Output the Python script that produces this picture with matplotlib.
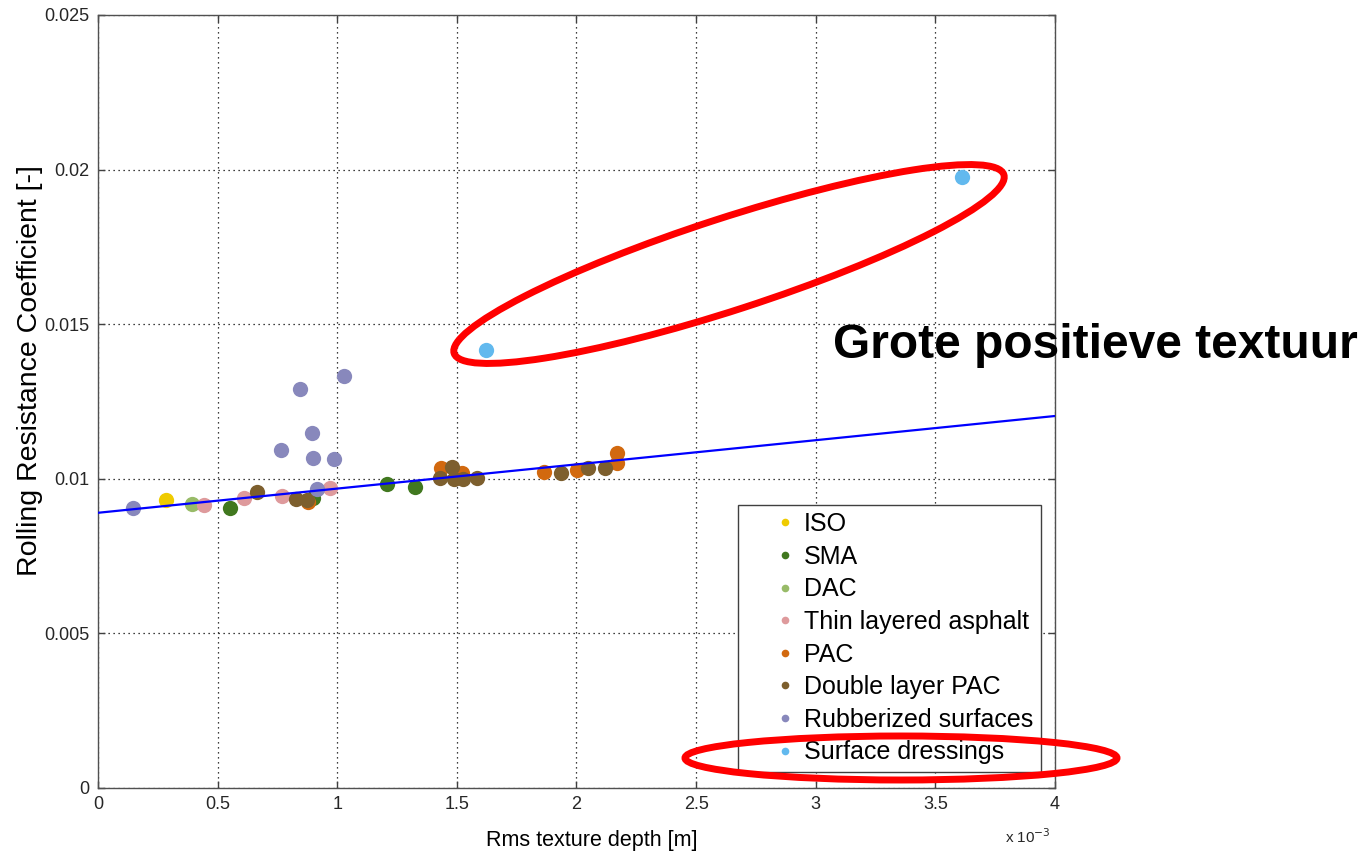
import matplotlib
matplotlib.use("Agg")
import matplotlib.pyplot as plt
from matplotlib.patches import Ellipse
from matplotlib.transforms import IdentityTransform
from matplotlib.ticker import FuncFormatter, MultipleLocator
import numpy as np

plt.rcParams["font.family"] = ["Liberation Sans", "DejaVu Sans"]

# texture depth in mm (axis is in m, x 10^-3), rolling resistance coefficient [-]
categories = ["ISO", "SMA", "DAC", "Thin layered asphalt", "PAC",
              "Double layer PAC", "Rubberized surfaces", "Surface dressings"]
colors = ["#EFCB00", "#41781F", "#98BB68", "#DE9A9C", "#D2690F",
          "#7D5F2E", "#8888BC", "#62B9EE"]

iso_x = [0.284]
iso_y = [0.00932]
sma_x = [0.552, 0.899, 1.209, 1.325]
sma_y = [0.00905, 0.00938, 0.00983, 0.00973]
dac_x = [0.394]
dac_y = [0.00917]
thin_x = [0.443, 0.612, 0.768, 0.970]
thin_y = [0.00915, 0.00939, 0.00943, 0.00970]
pac_x = [0.878, 1.432, 1.520, 1.864, 2.004, 2.168, 2.168]
pac_y = [0.00924, 0.01034, 0.01019, 0.01023, 0.01028, 0.01082, 0.01050]
dlpac_x = [0.666, 0.828, 0.872, 1.429, 1.478, 1.490, 1.526, 1.583,
           1.935, 2.050, 2.119]
dlpac_y = [0.00958, 0.00933, 0.00931, 0.01004, 0.01037, 0.00999, 0.00998,
           0.01003, 0.01018, 0.01034, 0.01034]
rubber_x = [0.145, 0.765, 0.844, 0.896, 0.900, 0.914, 0.988, 1.028]
rubber_y = [0.00905, 0.01093, 0.01290, 0.01148, 0.01067, 0.00968, 0.01063,
            0.01333]
dress_x = [1.622, 3.611]
dress_y = [0.01417, 0.01975]

xs = [iso_x, sma_x, dac_x, thin_x, pac_x, dlpac_x, rubber_x, dress_x]
ys = [iso_y, sma_y, dac_y, thin_y, pac_y, dlpac_y, rubber_y, dress_y]

# linear fit shown as the blue line
fit_intercept = 0.00890
fit_slope = 0.7825
fit_range = [0.0, 4.0e-3]

fig = plt.figure(figsize=(13.69, 8.55), dpi=100)
ax = fig.add_axes([0.0716, 0.0784, 0.6990, 0.9041])

handles = []
for name, c, x, y in zip(categories, colors, xs, ys):
    h, = ax.plot(np.array(x) * 1e-3, y, "o", color=c, ms=11, mec="none",
                 label=name, zorder=3)
    handles.append(h)

fx = np.array(fit_range)
ax.plot(fx, fit_intercept + fit_slope * fx, color="#0000FF", lw=1.6,
        zorder=4)

ax.set_xlim(0, 4e-3)
ax.set_ylim(0, 0.025)
ax.xaxis.set_major_locator(MultipleLocator(0.5e-3))
ax.yaxis.set_major_locator(MultipleLocator(0.005))
ax.xaxis.set_major_formatter(FuncFormatter(lambda v, p: "{:g}".format(round(v * 1e3, 3))))
ax.yaxis.set_major_formatter(FuncFormatter(lambda v, p: "{:g}".format(round(v, 4))))
ax.grid(True, color="black", linestyle=(0, (1, 3)), linewidth=0.9)
ax.set_axisbelow(True)
ax.tick_params(direction="in", length=5, width=1, top=True, right=True,
               labelsize=13, colors="#404040", labelcolor="#262626", pad=6)
for s in ax.spines.values():
    s.set_color("#505050")
    s.set_linewidth(1)

ax.set_xlabel("Rms texture depth [m]", fontsize=15.5)
ax.xaxis.set_label_coords(0.516, -0.054)
ax.set_ylabel("Rolling Resistance Coefficient [-]", fontsize=20.5)
ax.yaxis.set_label_coords(-0.058, 0.54)
ax.text(0.948, -0.063, "x 10$^{-3}$", transform=ax.transAxes, fontsize=11,
        color="#262626", va="center")

leg = ax.legend(handles=handles, loc="lower right",
                bbox_to_anchor=(0.985, 0.0207), borderaxespad=0,
                fontsize=18, markerscale=0.5, numpoints=1,
                handlelength=3.2, handletextpad=-0.85, labelspacing=0.345,
                borderpad=0.3, fancybox=False, framealpha=1,
                edgecolor="#404040")
leg.get_frame().set_linewidth(1)

# red highlight ellipses and annotation, placed in figure pixels
fig.add_artist(Ellipse((729, 591), 578, 92, angle=18, fill=False,
                       edgecolor="#FF0000", lw=5, transform=IdentityTransform(),
                       zorder=10))
fig.add_artist(Ellipse((901, 97), 432, 44, angle=0, fill=False,
                       edgecolor="#FF0000", lw=5, transform=IdentityTransform(),
                       zorder=10))
fig.text(0.6085, 0.596, "Grote positieve textuur", fontsize=34.5,
         fontweight="bold", va="center", ha="left", zorder=11)

fig.savefig("out.png", dpi=100)
